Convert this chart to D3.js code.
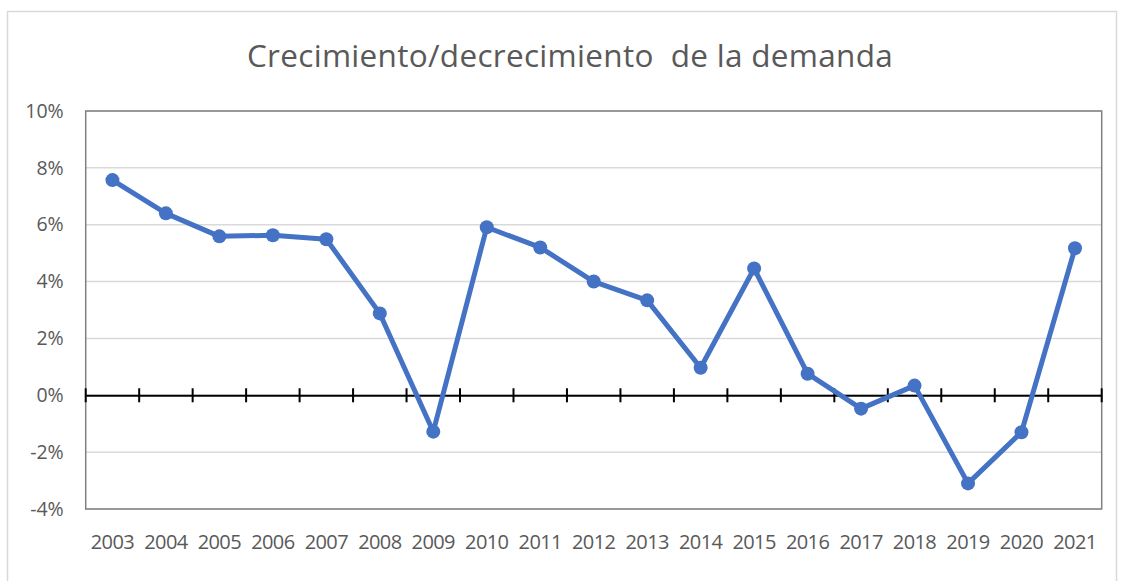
<!DOCTYPE html>
<html><head><meta charset="utf-8">
<script src="https://cdn.jsdelivr.net/npm/d3@7"></script>
<style>body{margin:0;background:#fff;}svg{display:block;font-family:"Open Sans","Liberation Sans",sans-serif;}</style>
</head><body><svg id="c" width="1121" height="581"></svg>
<script>
const years = ["2003","2004","2005","2006","2007","2008","2009","2010","2011","2012","2013","2014","2015","2016","2017","2018","2019","2020","2021"];
const growth = [7.57,6.40,5.59,5.63,5.49,2.88,-1.28,5.91,5.20,4.00,3.34,0.97,4.46,0.76,-0.47,0.34,-3.10,-1.30,5.17];
const yTicks = [-4,-2,0,2,4,6,8,10];
const title = "Crecimiento/decrecimiento\u00a0 de la demanda";

const svg = d3.select("#c");
const L = 85.7, R = 1101.7, T = 111, B = 509;
svg.append("rect").attr("x",7.5).attr("y",11.5).attr("width",1109).attr("height",580).attr("fill","#fff").attr("stroke","#d9d9d9").attr("stroke-width",1.5);
const x = d3.scaleBand().domain(years).range([L,R]).padding(0);
const y = d3.scaleLinear().domain([-4,10]).range([B,T]);

svg.append("text").attr("x",570).attr("y",67).attr("text-anchor","middle").attr("font-size",31.5).attr("letter-spacing",0.3).attr("fill","#595959").text(title);

// gridlines
svg.append("g").selectAll("line").data(yTicks).join("line")
  .attr("x1",L).attr("x2",R).attr("y1",d=>y(d)).attr("y2",d=>y(d))
  .attr("stroke","#d9d9d9").attr("stroke-width",1.5);
// y labels
const yAxis = d3.axisLeft(y).tickValues(yTicks).tickFormat(d=>d+"%").tickSize(0).tickPadding(22);
const ga = svg.append("g").attr("transform",`translate(${L},0)`).call(yAxis);
ga.select(".domain").remove();
ga.selectAll("text").attr("font-size",19.5).attr("fill","#595959").attr("font-family","'Open Sans','Liberation Sans',sans-serif");
// plot border
svg.append("rect").attr("x",L).attr("y",T).attr("width",R-L).attr("height",B-T).attr("fill","none").attr("stroke","#808080").attr("stroke-width",1.5);
// zero axis
const gx = svg.append("g").attr("transform",`translate(0,${y(0)})`)
  .call(d3.axisBottom(x).tickValues([]).tickSizeOuter(0));
gx.select(".domain").attr("stroke","#000").attr("stroke-width",2);
const edges = years.map(d=>x(d)).concat([R]);
gx.selectAll("line.tk").data(edges).join("line").attr("class","tk")
  .attr("x1",d=>d).attr("x2",d=>d).attr("y1",-7).attr("y2",7).attr("stroke","#000").attr("stroke-width",2);
// x labels
svg.append("g").selectAll("text").data(years).join("text")
  .attr("x",d=>x(d)+x.bandwidth()/2).attr("y",549).attr("text-anchor","middle")
  .attr("font-size",20).attr("letter-spacing",-0.6).attr("fill","#595959").text(d=>d);
// line
const line = d3.line().x((d,i)=>x(years[i])+x.bandwidth()/2).y(d=>y(d));
svg.append("path").datum(growth).attr("d",line).attr("fill","none").attr("stroke","#4472C4").attr("stroke-width",5).attr("stroke-linejoin","round");
svg.append("g").selectAll("circle").data(growth).join("circle")
  .attr("cx",(d,i)=>x(years[i])+x.bandwidth()/2).attr("cy",d=>y(d)).attr("r",7).attr("fill","#4472C4");
</script></body></html>
